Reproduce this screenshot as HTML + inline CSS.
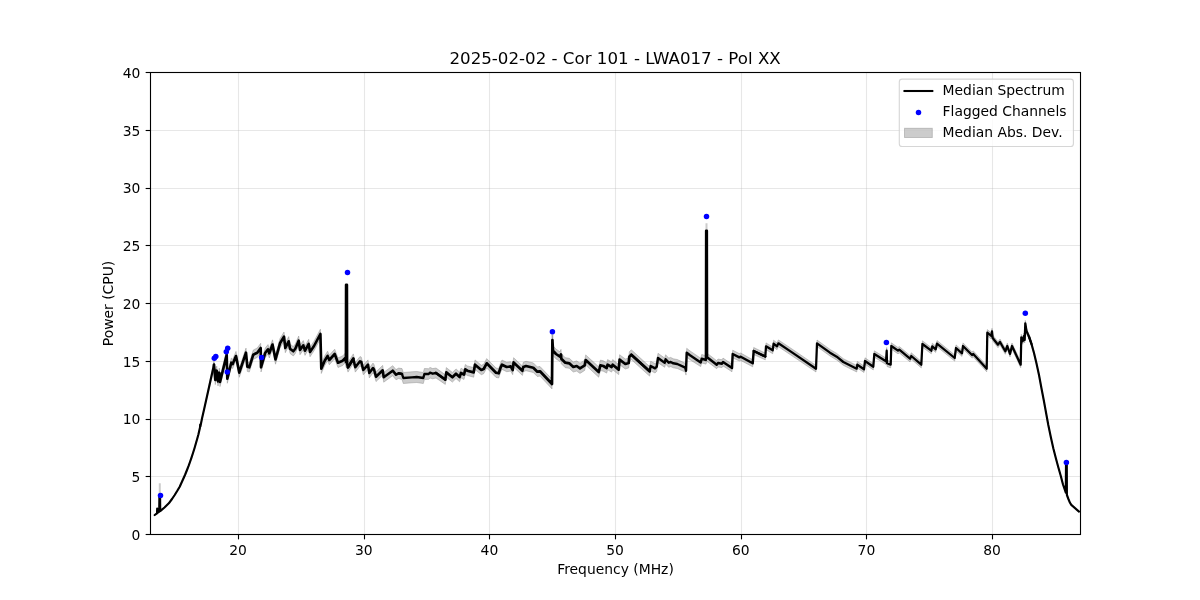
<!DOCTYPE html>
<html><head><meta charset="utf-8"><title>Median Spectrum</title>
<style>
html,body{margin:0;padding:0;background:#fff;}
body{width:1200px;height:600px;overflow:hidden;}
svg{display:block;}
text{font-family:"DejaVu Sans","Liberation Sans",sans-serif;fill:#000;}
.t10{font-size:13.89px;}
.t12{font-size:16.67px;}
</style></head><body>
<svg width="1200" height="600" viewBox="0 0 1200 600">
<rect width="1200" height="600" fill="#fff"/>

<g stroke="#b0b0b0" stroke-opacity="0.3" stroke-width="1.11" fill="none">
<line x1="238.50" y1="72.5" x2="238.50" y2="534.5"/>
<line x1="364.50" y1="72.5" x2="364.50" y2="534.5"/>
<line x1="489.50" y1="72.5" x2="489.50" y2="534.5"/>
<line x1="615.50" y1="72.5" x2="615.50" y2="534.5"/>
<line x1="741.50" y1="72.5" x2="741.50" y2="534.5"/>
<line x1="866.50" y1="72.5" x2="866.50" y2="534.5"/>
<line x1="992.50" y1="72.5" x2="992.50" y2="534.5"/>
<line x1="150.5" y1="534.50" x2="1080.5" y2="534.50"/>
<line x1="150.5" y1="476.50" x2="1080.5" y2="476.50"/>
<line x1="150.5" y1="419.50" x2="1080.5" y2="419.50"/>
<line x1="150.5" y1="361.50" x2="1080.5" y2="361.50"/>
<line x1="150.5" y1="303.50" x2="1080.5" y2="303.50"/>
<line x1="150.5" y1="245.50" x2="1080.5" y2="245.50"/>
<line x1="150.5" y1="188.50" x2="1080.5" y2="188.50"/>
<line x1="150.5" y1="130.50" x2="1080.5" y2="130.50"/>
<line x1="150.5" y1="72.50" x2="1080.5" y2="72.50"/>
</g>
<clipPath id="c"><rect x="150.5" y="72.5" width="930.0" height="462.0"/></clipPath>
<g clip-path="url(#c)">
<polygon points="154.7,514.7 157.0,512.9 157.4,512.6 159.2,511.2 160.2,510.8 160.5,510.4 164.5,507.1 168.8,502.8 172.0,498.5 174.7,494.5 177.3,490.3 179.7,486.1 181.5,482.2 183.2,478.4 185.2,473.9 187.0,469.4 188.5,465.6 190.0,461.3 191.5,456.9 193.0,452.3 194.5,447.5 196.0,442.3 197.3,437.8 198.4,433.8 200.0,426.7 200.2,423.7 200.4,425.7 202.0,417.7 204.0,408.9 206.0,399.6 208.0,389.9 210.0,380.1 212.0,370.3 214.0,360.5 215.3,375.4 216.7,366.1 218.0,376.7 219.3,368.1 220.0,377.4 226.7,350.1 227.3,374.1 231.3,358.1 232.7,359.4 236.0,351.4 239.3,368.1 246.0,348.1 247.3,362.0 249.3,362.6 253.3,350.0 257.3,348.0 260.7,343.3 261.0,362.6 265.3,348.0 268.0,344.6 269.3,348.6 272.5,339.8 275.5,354.8 280.0,338.6 284.0,332.0 285.3,343.3 288.7,336.6 290.0,344.0 293.3,346.6 295.3,344.0 298.7,336.0 300.0,345.3 303.3,340.6 305.0,346.0 308.7,339.3 310.0,347.2 314.0,341.2 320.4,329.2 321.3,363.9 324.7,355.9 327.6,351.2 329.3,355.2 334.7,349.2 338.0,357.9 342.7,355.9 345.3,353.2 345.9,357.2 347.1,359.2 348.0,362.5 353.3,353.9 355.3,362.5 360.0,356.5 361.3,357.2 363.3,365.2 368.0,359.9 369.3,368.1 373.0,363.1 374.0,364.6 376.0,371.8 382.7,365.4 383.7,372.4 392.7,365.7 396.0,369.6 398.7,368.1 402.0,368.6 403.3,372.5 412.0,371.8 416.7,371.5 423.3,372.5 424.4,368.5 428.7,368.7 430.0,367.4 432.7,368.6 436.0,368.0 445.3,374.8 446.3,367.6 452.4,372.5 456.0,368.9 459.6,372.2 461.0,368.2 464.0,369.9 465.3,364.5 467.3,365.9 473.7,367.6 475.0,359.9 481.3,365.3 483.7,364.3 486.7,358.6 496.0,368.0 498.7,368.6 500.7,362.6 502.0,360.0 506.7,362.3 510.7,361.7 512.7,365.3 513.6,357.7 522.4,366.0 523.3,362.3 526.0,361.3 533.3,362.9 537.3,366.9 540.0,366.5 552.0,379.1 552.4,335.1 553.0,345.8 556.0,349.1 560.0,351.8 561.0,349.4 561.3,353.7 565.3,357.7 569.3,358.3 573.3,362.0 576.7,360.9 580.0,363.2 584.7,360.2 585.7,354.9 598.7,366.8 600.4,360.1 603.3,360.8 606.7,362.9 607.6,359.6 611.6,361.9 612.7,359.6 618.7,364.6 619.6,354.7 625.3,359.0 628.7,358.1 629.3,351.8 631.3,349.8 649.6,366.5 650.7,361.3 655.0,363.6 656.7,362.0 658.0,353.3 664.7,358.1 665.6,354.7 668.7,358.1 670.7,357.4 673.3,358.8 677.3,359.5 685.3,363.3 686.0,366.3 686.7,348.3 690.0,350.9 700.7,358.2 701.7,354.5 705.3,355.5 705.9,355.8 707.1,353.2 716.7,360.7 718.0,359.0 722.0,359.8 723.0,358.1 732.0,364.2 732.7,350.2 739.3,353.6 740.7,353.0 752.7,359.8 753.7,347.5 765.3,353.1 766.0,342.9 772.7,346.9 773.6,340.2 777.0,342.9 778.4,339.9 792.0,349.0 816.0,365.4 817.0,340.0 830.0,349.4 836.7,353.4 843.3,358.7 856.7,365.4 857.3,361.4 864.0,366.1 865.0,357.8 873.3,363.5 874.3,350.8 886.0,358.1 886.7,347.5 887.0,360.1 890.7,361.5 891.3,342.8 898.0,347.5 899.3,346.5 910.0,355.5 911.3,352.8 921.3,361.5 922.4,340.8 931.3,347.6 932.3,343.2 935.7,346.2 937.0,340.5 954.7,354.9 956.0,344.9 962.0,350.2 963.0,342.9 972.0,351.9 973.3,350.9 986.7,365.6 987.3,329.6 991.3,332.9 992.0,328.3 992.7,335.0 998.0,341.7 1000.0,339.0 1005.3,348.3 1007.3,343.0 1010.0,351.0 1012.0,343.0 1020.7,361.7 1021.3,334.3 1022.7,338.3 1024.0,333.0 1024.7,337.0 1025.3,320.4 1026.5,328.3 1029.0,334.4 1031.5,342.1 1034.0,351.5 1036.5,362.3 1039.0,373.9 1041.5,387.5 1044.0,400.7 1046.0,411.8 1048.3,424.4 1050.8,436.5 1053.3,447.7 1055.8,457.5 1058.3,466.8 1060.8,475.6 1063.0,484.1 1065.8,492.2 1066.9,494.6 1068.4,498.6 1070.0,502.4 1071.3,504.5 1079.0,511.3 1079.0,511.9 1071.3,505.3 1070.0,503.2 1068.4,499.4 1066.9,495.4 1065.8,493.0 1063.0,484.9 1060.8,476.4 1058.3,467.6 1055.8,458.5 1053.3,448.7 1050.8,437.5 1048.3,425.6 1046.0,413.2 1044.0,402.3 1041.5,389.5 1039.0,376.1 1036.5,364.7 1034.0,354.5 1031.5,345.9 1029.0,339.0 1026.5,333.7 1025.3,326.2 1024.7,343.0 1024.0,339.0 1022.7,344.3 1021.3,340.3 1020.7,367.7 1012.0,349.0 1010.0,357.0 1007.3,349.0 1005.3,354.3 1000.0,345.0 998.0,347.7 992.7,341.0 992.0,334.3 991.3,339.1 987.3,335.8 986.7,371.8 973.3,357.1 972.0,358.1 963.0,349.1 962.0,356.4 956.0,351.1 954.7,361.1 937.0,346.7 935.7,352.4 932.3,349.4 931.3,353.8 922.4,347.2 921.3,367.9 911.3,359.2 910.0,361.9 899.3,352.9 898.0,353.9 891.3,349.2 890.7,367.9 887.0,366.5 886.7,353.9 886.0,364.5 874.3,357.2 873.3,369.9 865.0,364.2 864.0,372.5 857.3,368.0 856.7,372.0 843.3,365.3 836.7,360.0 830.0,356.0 817.0,346.6 816.0,372.0 792.0,355.8 778.4,346.7 777.0,349.7 773.6,347.0 772.7,353.7 766.0,349.7 765.3,359.9 753.7,354.5 752.7,366.8 740.7,360.4 739.3,361.0 732.7,357.8 732.0,371.8 723.0,365.9 722.0,367.6 718.0,367.0 716.7,368.7 707.1,361.4 705.9,364.2 705.3,363.9 701.7,362.9 700.7,366.6 690.0,359.7 686.7,357.1 686.0,375.1 685.3,372.1 677.3,368.5 673.3,367.8 670.7,366.6 668.7,367.3 665.6,363.9 664.7,367.3 658.0,362.7 656.7,371.4 655.0,373.0 650.7,370.7 649.6,376.1 631.3,359.6 629.3,361.6 628.7,367.9 625.3,369.0 619.6,364.7 618.7,374.6 612.7,369.8 611.6,372.1 607.6,369.8 606.7,373.1 603.3,371.2 600.4,370.5 598.7,377.2 585.7,365.1 584.7,370.4 580.0,373.4 576.7,371.1 573.3,372.0 569.3,368.3 565.3,367.7 561.3,363.7 561.0,359.4 560.0,361.6 556.0,358.9 553.0,355.6 552.4,344.9 552.0,388.9 540.0,376.1 537.3,376.5 533.3,372.5 526.0,370.7 523.3,371.7 522.4,375.4 513.6,367.1 512.7,374.7 510.7,371.1 506.7,371.7 502.0,369.4 500.7,372.0 498.7,378.0 496.0,377.4 486.7,368.0 483.7,373.7 481.3,374.7 475.0,369.5 473.7,377.2 467.3,375.5 465.3,374.1 464.0,379.5 461.0,377.8 459.6,381.8 456.0,378.5 452.4,382.1 446.3,377.2 445.3,384.4 436.0,378.0 432.7,378.8 430.0,378.0 428.7,379.3 424.4,379.5 423.3,383.5 416.7,382.5 412.0,382.8 403.3,383.5 402.0,379.4 398.7,378.5 396.0,379.8 392.7,375.7 383.7,382.2 382.7,375.2 376.0,381.6 374.0,374.4 373.0,372.9 369.3,377.9 368.0,369.5 363.3,374.8 361.3,366.8 360.0,366.1 355.3,372.1 353.3,363.5 348.0,372.1 347.1,368.8 345.9,366.8 345.3,362.8 342.7,365.5 338.0,367.5 334.7,358.8 329.3,364.8 327.6,360.8 324.7,365.5 321.3,373.5 320.4,338.8 314.0,350.8 310.0,356.8 308.7,348.7 305.0,355.4 303.3,350.0 300.0,354.7 298.7,345.4 295.3,353.4 293.3,356.0 290.0,353.4 288.7,346.0 285.3,352.7 284.0,341.4 280.0,348.0 275.5,364.2 272.5,349.2 269.3,358.0 268.0,354.0 265.3,357.4 261.0,372.0 260.7,352.7 257.3,357.4 253.3,359.4 249.3,372.0 247.3,371.4 246.0,357.3 239.3,377.3 236.0,360.6 232.7,368.6 231.3,367.3 227.3,383.3 226.7,359.3 220.0,386.6 219.3,377.3 218.0,385.9 216.7,375.3 215.3,384.6 214.0,368.9 212.0,377.3 210.0,385.5 208.0,393.7 206.0,402.0 204.0,410.5 202.0,419.3 200.4,427.3 200.2,425.3 200.0,428.3 198.4,435.2 197.3,439.2 196.0,443.7 194.5,448.9 193.0,453.7 191.5,458.3 190.0,462.7 188.5,466.8 187.0,470.6 185.2,475.1 183.2,479.6 181.5,483.4 179.7,487.3 177.3,491.3 174.7,495.5 172.0,499.5 168.8,503.8 164.5,507.9 160.5,511.2 160.2,511.6 159.2,512.0 157.4,513.4 157.0,513.7 154.7,515.3" fill="#808080" fill-opacity="0.4" stroke="#808080" stroke-opacity="0.4" stroke-width="1" stroke-linejoin="round"/>
<line x1="159.8" y1="483.3" x2="159.8" y2="496" stroke="#808080" stroke-opacity="0.4" stroke-width="2"/>
<line x1="706.5" y1="223.3" x2="706.5" y2="231" stroke="#808080" stroke-opacity="0.4" stroke-width="2"/>
<line x1="552.4" y1="331.7" x2="552.4" y2="341" stroke="#808080" stroke-opacity="0.4" stroke-width="2"/>
<polyline points="154.7,515.0 157.0,513.3 157.2,508.6 157.4,513.0 159.2,511.6 159.4,496.2 160.1,496.2 160.2,511.2 160.5,510.8 164.5,507.5 168.8,503.3 172.0,499.0 174.7,495.0 177.3,490.8 179.7,486.7 181.5,482.8 183.2,479.0 185.2,474.5 187.0,470.0 188.5,466.2 190.0,462.0 191.5,457.6 193.0,453.0 194.5,448.2 196.0,443.0 197.3,438.5 198.4,434.5 200.0,427.5 200.2,424.5 200.4,426.5 202.0,418.5 204.0,409.7 206.0,400.8 208.0,391.8 210.0,382.8 212.0,373.8 214.0,364.7" fill="none" stroke="#000" stroke-width="2.15" stroke-linejoin="round" stroke-linecap="round"/>
<polyline points="214.0,364.7 215.3,380.0 216.7,370.7 218.0,381.3 219.3,372.7 220.0,382.0 226.7,354.7 227.3,378.7 231.3,362.7 232.7,364.0 236.0,356.0 239.3,372.7 246.0,352.7 247.3,366.7 249.3,367.3 253.3,354.7 257.3,352.7 260.7,348.0 261.0,367.3 265.3,352.7 268.0,349.3 269.3,353.3 272.5,344.5 275.5,359.5 280.0,343.3 284.0,336.7 285.3,348.0 288.7,341.3 290.0,348.7 293.3,351.3 295.3,348.7 298.7,340.7 300.0,350.0 303.3,345.3 305.0,350.7 308.7,344.0 310.0,352.0 314.0,346.0 320.4,334.0 321.3,368.7 324.7,360.7 327.6,356.0 329.3,360.0 334.7,354.0 338.0,362.7 342.7,360.7 345.3,358.0 345.9,362.0 346.1,284.8 346.9,284.8 347.1,364.0 348.0,367.3 353.3,358.7" fill="none" stroke="#000" stroke-width="2.65" stroke-linejoin="round" stroke-linecap="round"/>
<polyline points="348.0,367.3 353.3,358.7 355.3,367.3 360.0,361.3 361.3,362.0 363.3,370.0 368.0,364.7 369.3,373.0 373.0,368.0 374.0,369.5 376.0,376.7 382.7,370.3 383.7,377.3 392.7,370.7 396.0,374.7 398.7,373.3 402.0,374.0" fill="none" stroke="#000" stroke-width="2.6" stroke-linejoin="round" stroke-linecap="round"/>
<polyline points="398.7,373.3 402.0,374.0 403.3,378.0 412.0,377.3 416.7,377.0 423.3,378.0 424.4,374.0 428.7,374.0 430.0,372.7 432.7,373.7 436.0,373.0 445.3,379.6" fill="none" stroke="#000" stroke-width="2.35" stroke-linejoin="round" stroke-linecap="round"/>
<polyline points="436.0,373.0 445.3,379.6 446.3,372.4 452.4,377.3 456.0,373.7 459.6,377.0 461.0,373.0 464.0,374.7 465.3,369.3 467.3,370.7 473.7,372.4 475.0,364.7 481.3,370.0 483.7,369.0 486.7,363.3 496.0,372.7 498.7,373.3 500.7,367.3 502.0,364.7 506.7,367.0 510.7,366.4 512.7,370.0 513.6,362.4 522.4,370.7 523.3,367.0 526.0,366.0 533.3,367.7 537.3,371.7 540.0,371.3 552.0,384.0 552.4,340.0 553.0,350.7 556.0,354.0 560.0,356.7 561.0,354.4 561.3,358.7 565.3,362.7 569.3,363.3 573.3,367.0 576.7,366.0 580.0,368.3 584.7,365.3 585.7,360.0 598.7,372.0 600.4,365.3 603.3,366.0 606.7,368.0 607.6,364.7 611.6,367.0 612.7,364.7 618.7,369.6 619.6,359.7 625.3,364.0 628.7,363.0 629.3,356.7 631.3,354.7 649.6,371.3" fill="none" stroke="#000" stroke-width="2.7" stroke-linejoin="round" stroke-linecap="round"/>
<polyline points="631.3,354.7 649.6,371.3 650.7,366.0 655.0,368.3 656.7,366.7 658.0,358.0 664.7,362.7 665.6,359.3 668.7,362.7 670.7,362.0 673.3,363.3 677.3,364.0 685.3,367.7 686.0,370.7 686.7,352.7 690.0,355.3 700.7,362.4 701.7,358.7 705.3,359.7 705.9,360.0 706.1,230.8 706.9,230.8 707.1,357.3 716.7,364.7 718.0,363.0 722.0,363.7 723.0,362.0 732.0,368.0 732.7,354.0 739.3,357.3 740.7,356.7 752.7,363.3 753.7,351.0 765.3,356.5" fill="none" stroke="#000" stroke-width="2.45" stroke-linejoin="round" stroke-linecap="round"/>
<polyline points="753.7,351.0 765.3,356.5 766.0,346.3 772.7,350.3 773.6,343.6 777.0,346.3 778.4,343.3 792.0,352.4 816.0,368.7 817.0,343.3 830.0,352.7 836.7,356.7 843.3,362.0 856.7,368.7 857.3,364.7 864.0,369.3 865.0,361.0 873.3,366.7 874.3,354.0 886.0,361.3 886.7,350.7 887.0,363.3 890.7,364.7 891.3,346.0 898.0,350.7 899.3,349.7 910.0,358.7 911.3,356.0 921.3,364.7 922.4,344.0 931.3,350.7 932.3,346.3 935.7,349.3 937.0,343.6 954.7,358.0 956.0,348.0 962.0,353.3 963.0,346.0 972.0,355.0 973.3,354.0 986.7,368.7 987.3,332.7 991.3,336.0 992.0,331.3 992.7,338.0 998.0,344.7 1000.0,342.0 1005.3,351.3 1007.3,346.0 1010.0,354.0 1012.0,346.0 1020.7,364.7 1021.3,337.3 1022.7,341.3 1024.0,336.0 1024.7,340.0 1025.3,323.3 1026.5,331.0 1029.0,336.7 1031.5,344.0" fill="none" stroke="#000" stroke-width="2.25" stroke-linejoin="round" stroke-linecap="round"/>
<polyline points="1029.0,336.7 1031.5,344.0 1034.0,353.0 1036.5,363.5 1039.0,375.0 1041.5,388.5 1044.0,401.5 1046.0,412.5 1048.3,425.0 1050.8,437.0 1053.3,448.2 1055.8,458.0 1058.3,467.2 1060.8,476.0 1063.0,484.5 1065.8,492.6 1066.0,464.4 1066.8,464.4 1066.9,495.0 1068.4,499.0 1070.0,502.8 1071.3,504.9 1079.0,511.6" fill="none" stroke="#000" stroke-width="2.15" stroke-linejoin="round" stroke-linecap="round"/>
<circle cx="160.5" cy="495.4" r="2.75" fill="#0000ff"/>
<circle cx="214.3" cy="358.3" r="2.75" fill="#0000ff"/>
<circle cx="215.8" cy="356.5" r="2.75" fill="#0000ff"/>
<circle cx="226.3" cy="351.7" r="2.75" fill="#0000ff"/>
<circle cx="227.7" cy="348.3" r="2.75" fill="#0000ff"/>
<circle cx="227.3" cy="372.1" r="2.75" fill="#0000ff"/>
<circle cx="261.6" cy="357.6" r="2.75" fill="#0000ff"/>
<circle cx="347.5" cy="272.5" r="2.75" fill="#0000ff"/>
<circle cx="552.4" cy="331.7" r="2.75" fill="#0000ff"/>
<circle cx="706.5" cy="216.5" r="2.75" fill="#0000ff"/>
<circle cx="886.4" cy="342.4" r="2.75" fill="#0000ff"/>
<circle cx="1025.3" cy="313.3" r="2.75" fill="#0000ff"/>
<circle cx="1066.4" cy="462.4" r="2.75" fill="#0000ff"/>
</g>
<rect x="150.5" y="72.5" width="930.0" height="462.0" fill="none" stroke="#000" stroke-width="1.11"/>
<g stroke="#000" stroke-width="1.11">
<line x1="238.50" y1="534.5" x2="238.50" y2="539.36"/>
<line x1="364.50" y1="534.5" x2="364.50" y2="539.36"/>
<line x1="489.50" y1="534.5" x2="489.50" y2="539.36"/>
<line x1="615.50" y1="534.5" x2="615.50" y2="539.36"/>
<line x1="741.50" y1="534.5" x2="741.50" y2="539.36"/>
<line x1="866.50" y1="534.5" x2="866.50" y2="539.36"/>
<line x1="992.50" y1="534.5" x2="992.50" y2="539.36"/>
<line x1="150.5" y1="534.50" x2="145.64" y2="534.50"/>
<line x1="150.5" y1="476.50" x2="145.64" y2="476.50"/>
<line x1="150.5" y1="419.50" x2="145.64" y2="419.50"/>
<line x1="150.5" y1="361.50" x2="145.64" y2="361.50"/>
<line x1="150.5" y1="303.50" x2="145.64" y2="303.50"/>
<line x1="150.5" y1="245.50" x2="145.64" y2="245.50"/>
<line x1="150.5" y1="188.50" x2="145.64" y2="188.50"/>
<line x1="150.5" y1="130.50" x2="145.64" y2="130.50"/>
<line x1="150.5" y1="72.50" x2="145.64" y2="72.50"/>
</g>
 <text class="t10" x="238.07" y="554.6" text-anchor="middle">20</text>
 <text class="t10" x="363.75" y="554.6" text-anchor="middle">30</text>
 <text class="t10" x="489.42" y="554.6" text-anchor="middle">40</text>
 <text class="t10" x="615.10" y="554.6" text-anchor="middle">50</text>
 <text class="t10" x="740.78" y="554.6" text-anchor="middle">60</text>
 <text class="t10" x="866.45" y="554.6" text-anchor="middle">70</text>
 <text class="t10" x="992.13" y="554.6" text-anchor="middle">80</text>
<text class="t10" x="140.3" y="539.80" text-anchor="end">0</text>
<text class="t10" x="140.3" y="482.05" text-anchor="end">5</text>
<text class="t10" x="140.3" y="424.30" text-anchor="end">10</text>
<text class="t10" x="140.3" y="366.55" text-anchor="end">15</text>
<text class="t10" x="140.3" y="308.80" text-anchor="end">20</text>
<text class="t10" x="140.3" y="251.05" text-anchor="end">25</text>
<text class="t10" x="140.3" y="193.30" text-anchor="end">30</text>
<text class="t10" x="140.3" y="135.55" text-anchor="end">35</text>
<text class="t10" x="140.3" y="77.80" text-anchor="end">40</text>
<text class="t10" x="615.5" y="573.6" text-anchor="middle">Frequency (MHz)</text>
<text class="t10" transform="translate(113.2,303.5) rotate(-90)" text-anchor="middle">Power (CPU)</text>
<text class="t12" x="615.1" y="64" text-anchor="middle">2025-02-02 - Cor 101 - LWA017 - Pol XX</text>
<rect x="899.3" y="79.1" width="174.1" height="67.4" rx="2.8" ry="2.8" fill="#fff" fill-opacity="0.8" stroke="#cccccc" stroke-opacity="0.8" stroke-width="1.11"/>
<line x1="904.5" y1="91" x2="932.3" y2="91" stroke="#000" stroke-width="2.08" stroke-linecap="square"/>
<circle cx="918.5" cy="112.5" r="2.75" fill="#0000ff"/>
<rect x="904.5" y="128.3" width="27.8" height="9.2" fill="#808080" fill-opacity="0.4" stroke="#808080" stroke-opacity="0.4" stroke-width="1"/>
<text class="t10" x="942.6" y="94.8">Median Spectrum</text>
<text class="t10" x="942.6" y="115.8">Flagged Channels</text>
<text class="t10" x="942.6" y="137.0">Median Abs. Dev.</text>
</svg></body></html>
